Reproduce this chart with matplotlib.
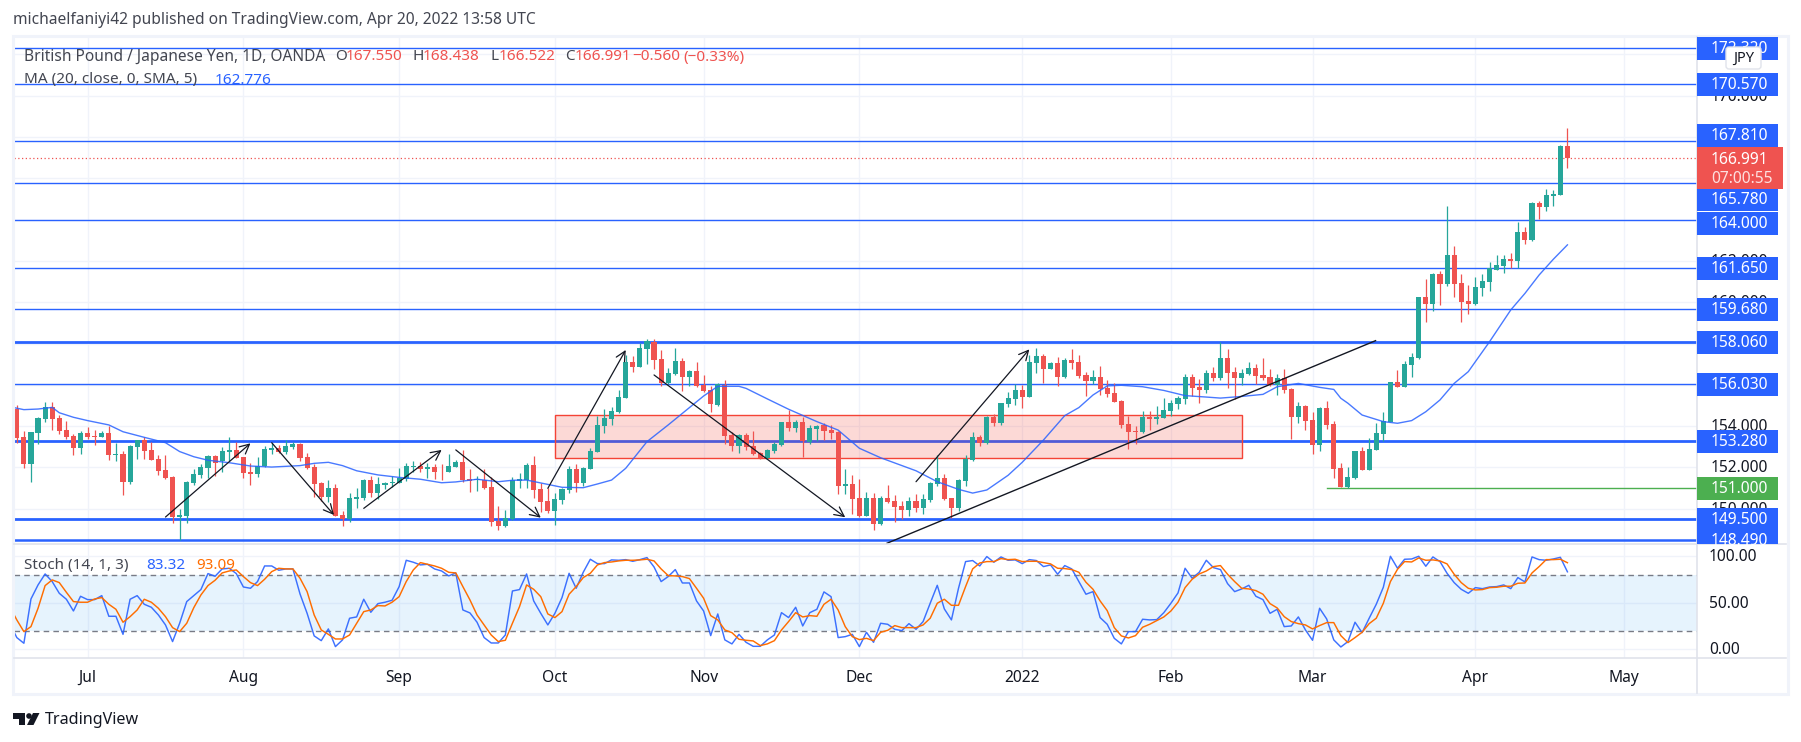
import numpy as np
import matplotlib
matplotlib.use('Agg')
import matplotlib.pyplot as plt
from matplotlib.patches import Rectangle, Polygon, Circle, FancyBboxPatch

plt.rcParams['font.family'] = ['Noto Sans', 'DejaVu Sans']

# Velas diarias GBP/JPY
opens = [154.85,153.47,152.18,153.69,154.36,154.93,154.41,153.81,153.52,152.96,
 153.67,153.51,153.49,153.67,152.62,152.65,151.31,152.99,153.33,152.85,
 152.41,151.88,151.54,149.60,149.65,151.25,151.65,151.97,152.55,152.30,
 152.75,152.85,152.51,151.78,151.68,152.06,152.86,152.94,152.75,152.99,
 153.14,152.51,152.02,151.25,150.57,151.01,149.70,149.50,150.49,150.52,
 151.39,150.76,151.17,151.25,151.25,151.44,152.04,152.07,151.94,152.02,
 151.84,151.78,152.04,152.26,151.43,151.39,151.39,151.05,149.41,149.16,
 149.50,151.33,151.38,152.12,150.96,150.38,149.89,150.43,150.91,151.93,
 151.25,151.93,152.75,154.01,154.36,154.69,155.36,157.11,156.87,157.74,
 158.08,157.25,156.07,156.53,157.16,156.38,156.67,155.99,155.75,155.03,
 155.99,153.57,153.04,153.57,153.04,152.70,152.46,152.80,153.09,154.20,
 153.91,154.20,153.23,153.86,154.06,153.81,153.72,151.12,151.20,150.52,
 149.65,150.52,149.26,150.52,150.38,150.13,149.94,150.38,150.04,150.43,
 151.20,151.49,150.52,150.04,151.34,152.36,153.47,153.19,154.44,154.15,
 155.07,155.32,155.75,155.41,157.06,157.40,156.77,157.06,156.38,157.20,
 157.11,156.48,156.19,156.38,155.85,155.61,155.22,154.11,153.77,153.72,
 154.44,154.35,154.40,154.73,155.07,155.32,156.38,155.90,155.75,156.57,
 156.33,157.30,156.62,156.33,156.53,156.82,156.48,156.38,155.99,156.33,
 155.80,154.44,154.98,154.30,153.09,154.88,154.11,151.97,151.07,151.49,
 152.79,151.89,152.85,153.64,154.19,156.14,155.91,156.96,157.30,160.26,
 159.92,161.39,160.89,162.29,160.93,160.06,159.92,160.69,160.98,161.56,
 161.76,162.10,162.00,163.40,163.02,164.81,164.61,165.16,165.20,167.55]
closes = [153.44,152.18,153.72,154.40,154.93,154.36,153.78,153.47,152.96,153.67,
 153.46,153.49,153.67,152.62,152.65,151.31,153.04,153.31,152.81,152.36,
 151.83,151.49,149.59,149.68,151.30,151.68,152.02,152.55,152.20,152.78,
 152.85,152.47,151.75,151.70,152.07,152.89,152.94,152.75,153.04,153.14,
 152.47,151.99,151.20,150.57,151.01,149.65,149.50,150.52,150.57,151.39,
 150.76,151.20,151.26,151.30,151.51,152.07,152.07,151.94,152.01,151.78,
 151.81,152.07,152.26,151.38,151.36,151.44,151.01,149.37,149.18,149.54,
 151.38,151.44,152.12,150.91,150.33,149.89,150.47,150.96,151.93,151.25,
 151.97,152.80,154.04,154.41,154.73,155.41,157.11,156.87,157.79,158.11,
 157.20,156.09,156.57,157.16,156.38,156.67,155.95,155.70,155.07,156.04,
 153.52,153.04,153.57,152.99,152.65,152.46,152.85,153.14,154.20,153.91,
 154.22,153.28,153.91,154.01,153.77,153.67,151.10,151.20,150.47,149.65,
 150.52,149.26,150.52,150.33,150.09,149.94,150.38,150.04,150.47,151.25,
 151.49,150.47,150.04,151.39,152.41,153.47,153.19,154.44,154.15,155.12,
 155.36,155.75,155.41,157.11,157.40,156.77,157.06,156.38,157.20,157.06,
 156.43,156.19,156.38,155.80,155.56,155.17,154.06,153.72,153.73,154.44,
 154.35,154.44,154.78,155.12,155.36,156.38,155.85,155.75,156.57,156.33,
 157.30,156.57,156.33,156.57,156.82,156.43,156.33,155.99,156.33,155.75,
 154.44,154.98,154.25,153.09,154.88,154.06,151.93,151.05,151.52,152.79,
 151.89,152.89,153.69,154.23,156.14,155.91,157.01,157.35,160.26,159.92,
 161.39,160.89,162.29,160.89,160.01,159.92,160.74,161.03,161.64,161.80,
 162.10,162.00,163.40,163.02,164.81,164.61,165.20,165.24,167.57,166.99]
highs = [155.01,153.77,153.72,154.46,155.15,155.17,154.53,154.25,153.60,153.75,
 153.96,153.80,153.75,154.01,153.19,152.80,153.10,153.33,153.46,153.25,
 152.60,152.60,151.59,149.99,151.33,151.94,152.18,152.60,152.60,152.99,
 153.47,153.22,152.51,152.20,152.52,153.04,153.19,153.09,153.31,153.25,
 153.20,152.69,152.18,151.31,151.38,151.18,149.89,150.75,151.01,151.44,
 151.59,151.55,151.31,151.57,151.97,152.20,152.31,152.25,152.23,152.17,
 152.17,152.65,152.36,152.85,151.91,151.59,151.93,151.55,150.13,149.94,
 151.52,151.73,152.20,152.55,151.23,150.99,150.75,151.02,152.07,152.17,
 152.04,152.94,154.51,154.82,154.94,155.75,157.45,157.40,158.01,158.22,
 158.22,157.69,156.80,157.79,157.30,156.72,157.11,156.48,155.95,156.09,
 156.24,153.73,153.62,153.69,153.77,152.75,152.91,153.23,154.20,154.78,
 154.30,154.44,154.06,154.06,154.15,154.04,153.77,151.93,151.64,151.44,
 150.81,150.75,150.63,151.15,150.67,150.38,150.57,150.72,150.72,151.30,
 152.60,151.68,150.52,151.44,152.60,153.72,153.57,154.49,154.59,155.12,
 155.65,156.04,155.99,157.45,157.79,157.49,157.11,157.37,157.30,157.74,
 157.45,156.62,156.72,156.91,156.24,156.07,155.27,154.49,154.01,154.73,
 154.73,154.98,155.35,155.27,155.46,156.53,156.53,156.28,156.72,156.87,
 158.07,157.74,156.87,156.77,157.11,157.01,157.30,156.77,156.53,156.77,
 155.85,155.17,155.03,154.69,154.93,155.22,154.25,152.20,152.04,152.81,
 152.98,153.43,154.14,154.70,156.14,156.72,157.17,157.53,160.27,161.13,
 161.43,161.51,164.66,162.72,161.37,160.84,161.24,161.37,161.93,162.29,
 162.29,162.37,163.89,163.65,164.86,164.91,165.49,165.44,167.62,168.44]
lows = [153.17,151.99,151.31,153.12,154.22,153.81,153.62,153.39,152.60,152.65,
 153.39,153.09,153.47,152.36,152.33,150.67,151.22,152.41,152.41,152.36,
 151.65,151.44,149.33,148.49,149.33,151.15,151.47,151.47,151.60,151.80,
 152.31,152.46,151.51,151.15,151.55,152.02,152.65,152.69,152.65,152.89,
 152.33,151.93,150.59,150.38,150.34,149.65,149.16,149.37,150.02,150.43,
 150.59,150.47,150.97,151.04,151.25,151.36,151.76,151.80,151.47,151.44,
 151.38,151.78,152.01,151.31,150.83,150.88,150.96,149.16,148.97,149.10,
 149.46,151.01,150.99,150.51,149.86,149.79,149.23,150.23,150.78,150.81,
 151.10,151.93,152.75,153.69,154.06,154.62,155.36,156.64,156.87,157.01,
 156.75,155.95,156.04,156.49,155.70,155.95,155.88,155.67,154.69,154.98,
 153.14,152.80,152.70,152.85,152.60,152.41,152.41,152.70,153.04,153.77,
 153.72,152.51,153.14,153.28,153.33,153.38,150.70,150.72,149.75,149.62,
 149.65,148.97,149.21,150.28,149.36,149.50,149.65,149.84,149.75,150.31,
 151.10,150.43,149.55,149.89,151.10,152.31,153.04,153.14,154.01,154.06,
 154.93,155.03,154.88,155.41,156.57,156.09,156.77,155.95,156.33,156.77,
 156.33,155.46,156.04,155.51,155.41,155.17,153.91,152.89,153.14,153.67,
 153.81,154.10,154.40,154.49,154.83,155.07,155.46,155.12,155.61,156.19,
 156.24,155.85,155.32,155.99,156.48,156.04,156.24,155.95,155.51,155.61,
 153.38,154.15,153.81,152.65,152.80,153.86,151.49,151.05,150.99,151.44,
 151.88,151.88,152.85,153.27,154.19,155.88,155.88,156.40,157.25,159.06,
 159.59,159.87,160.80,160.24,159.06,159.43,159.87,160.30,160.55,161.56,
 161.43,161.64,161.64,162.82,162.97,164.03,164.42,164.66,165.20,166.52]

# Media movil 20
ma_days = [-1,1,3,5,6,8,10,13,15,18,21,23,25,27,30,33,36,40,42,44,46,48,51,54,57,60,62,65,68,70,72,75,77,80,82,
 84,86,89,92,94,97,99,102,103,106,109,113,116,119,122,127,130,133,135,137,140,142,145,148,150,152,154,156,159,
 162,165,168,170,173,176,178,181,184,186,187,188,190,193,195,197,199,201,203,205,208,211,213,215,217,219]
ma_values = [154.94,154.80,154.83,154.91,154.65,154.43,154.27,154.06,153.73,153.46,153.20,152.77,152.52,152.35,152.23,
 152.07,152.02,152.09,152.20,152.25,152.09,151.84,151.64,151.52,151.43,151.26,151.30,151.43,151.31,151.38,151.39,
 151.18,151.04,151.02,151.20,151.39,151.96,153.25,154.06,154.62,155.46,155.93,155.93,155.83,155.32,154.82,154.22,
 153.81,152.93,152.47,151.84,151.31,150.94,150.76,150.91,151.62,152.25,153.33,154.51,154.90,155.51,155.95,155.98,
 155.91,155.73,155.48,155.41,155.36,155.44,155.54,155.91,156.07,155.88,155.78,155.35,155.11,154.54,154.22,154.14,
 154.27,154.70,155.27,156.07,156.64,158.09,159.63,160.43,161.32,162.08,162.78]

# Estocastico (dia -1 queda justo fuera del borde)
stoch_k = [28.0,12.6,6.5,54.1,69.2,81.0,72.8,60.2,53.8,41.2,57.0,
 53.4,53.4,57.7,35.5,35.5,16.1,53.8,57.7,48.4,45.2,
 36.9,26.2,8.3,28.0,51.3,57.7,64.2,81.4,78.5,86.4,
 87.1,81.4,67.0,65.6,72.8,89.6,89.6,85.0,86.4,86.4,
 59.5,38.7,14.4,9.3,21.9,2.9,10.1,33.4,34.8,53.8,
 39.8,49.1,50.6,52.7,67.4,95.7,93.6,90.7,91.4,86.4,
 84.2,78.9,82.1,42.3,39.1,29.1,12.6,6.8,6.8,15.4,
 62.7,64.2,81.0,52.0,38.7,26.2,38.7,55.6,81.7,65.6,
 82.8,96.8,92.1,92.1,96.1,95.7,96.4,94.6,96.4,98.6,
 88.5,72.8,78.2,85.7,71.3,71.3,52.0,41.2,14.7,38.0,
 10.1,5.8,16.1,7.5,3.2,3.2,10.1,15.4,39.4,34.1,
 45.2,25.1,39.4,43.0,61.7,56.6,12.6,13.6,16.1,2.9,
 18.3,7.5,28.0,26.9,21.5,20.1,27.6,21.5,29.8,49.5,
 68.8,43.4,31.6,65.6,94.3,95.4,89.6,99.7,93.6,99.3,
 95.7,96.1,92.1,96.4,95.4,88.9,90.7,80.7,90.0,86.4,
 72.8,59.2,62.0,34.1,26.9,11.8,5.8,19.0,19.0,32.3,
 31.6,31.9,39.4,49.5,60.6,87.1,76.4,82.8,95.7,87.8,
 85.7,70.6,62.0,64.9,68.8,57.0,53.4,38.7,43.0,24.4,
 25.1,34.8,20.8,9.7,44.1,32.6,10.1,2.5,8.3,29.1,
 17.9,33.4,48.4,66.7,100.0,87.1,96.8,97.1,100.0,89.3,
 99.3,94.3,81.7,71.7,64.5,60.2,66.3,65.2,67.0,67.4,
 69.2,65.2,77.1,72.4,99.3,96.4,95.7,97.1,98.9,83.32]
stoch_d = [45.9,31.6,19.0,24.4,44.1,68.5,74.6,71.7,61.3,51.3,50.6,
 50.6,54.1,55.6,48.4,43.0,29.1,35.1,42.3,53.8,50.6,
 44.1,35.1,23.3,19.0,28.0,44.8,58.4,68.5,74.2,82.1,
 84.2,85.3,78.2,71.7,68.5,75.3,83.5,87.1,86.4,86.4,
 76.4,62.0,36.9,20.8,16.1,11.1,11.1,15.4,28.0,40.5,
 42.3,47.0,46.6,50.6,56.6,72.8,85.3,93.2,91.4,89.6,
 87.1,82.8,82.1,67.4,53.1,36.9,26.2,15.4,8.3,9.7,
 28.0,45.9,69.2,64.5,56.6,38.0,34.1,40.5,59.2,67.4,
 77.1,81.7,90.7,93.2,93.9,95.0,95.7,95.7,96.1,96.8,
 95.0,86.4,79.2,78.9,78.2,76.0,65.6,54.9,36.2,31.6,
 20.8,17.9,10.8,9.7,9.0,4.0,5.8,9.3,20.8,29.8,
 39.4,34.8,36.2,35.5,48.4,53.8,42.3,24.4,13.6,10.4,
 11.8,9.3,18.3,20.4,25.5,23.3,23.3,23.3,26.2,33.4,
 49.5,53.8,47.3,47.3,67.4,86.4,92.8,94.3,94.3,97.5,
 96.4,96.8,94.3,94.6,94.6,93.2,91.8,87.1,86.8,85.7,
 82.8,72.1,64.5,52.0,41.6,23.3,14.4,12.2,14.7,23.7,
 26.9,30.8,34.8,41.2,50.6,66.3,75.3,81.0,84.2,88.9,
 90.0,80.7,72.8,65.6,64.9,63.1,59.2,49.1,44.5,35.1,
 29.8,27.6,26.2,21.9,25.5,28.7,28.7,14.7,7.2,12.6,
 18.3,27.6,33.4,49.5,72.8,86.0,94.3,93.9,98.2,95.7,
 96.1,95.0,91.8,80.7,71.7,65.6,63.8,64.2,66.3,66.7,
 67.8,67.8,71.0,71.3,82.1,88.9,96.4,96.4,96.8,93.09]

# Niveles horizontales
thin_levels = [172.32, 170.57, 167.81, 165.78, 164.00, 161.65, 159.68, 156.03]
thick_levels = [158.06, 153.28, 149.50, 148.49]
level_labels = [172.32, 170.57, 167.81, 165.78, 164.00, 161.65, 159.68, 158.06, 156.03, 153.28, 149.50, 148.49]
last_close = 166.991
support = 151.00
support_start = 185

# Flechas y tendencia: dia inicial, precio inicial, dia final, precio final
arrows = [(21,149.60,33,153.17),(36,153.20,44.8,149.70),(49,150.02,60,152.85),(62,152.85,74,149.57),
          (75,150.99,86,157.69),(90,156.48,117,149.59),(127,151.31,143,157.72)]
trend = (122.9,148.33,191.9,158.14)
zone = (76,173,152.44,154.53)

month_days = [10,32,54,76,97,119,142,163,183,206,227]
month_names = ['Jul','Aug','Sep','Oct','Nov','Dec','2022','Feb','Mar','Apr','May']
price_grid = [172,170,168,166,164,162,160,158,156,154,152,150,148]
# las demas etiquetas quedan del todo tapadas por las cajas azules
price_ticks = [172,170,162,160,154,152,150]
stoch_ticks = [100,50,0]

BLUE = '#2962ff'
RED = '#ef5350'
GREEN = '#26a69a'
ORANGE = '#ff6d00'
GRID = '#f0f3fa'
LINE = '#e0e3eb'
TXT = '#434651'
FS = 11.0
W, H = 1801, 742

fig = plt.figure(figsize=(W/100, H/100), dpi=100, facecolor='white')
left, right, top, sep, bottom = 13.5, 1697, 37, 544, 658
ax = fig.add_axes([left/W, 1-sep/H, (right-left)/W, (sep-top)/H])
ax2 = fig.add_axes([left/W, 1-bottom/H, (right-left)/W, (bottom-sep)/H])
xlim = (-0.466, 237.3)
ax.set_xlim(xlim); ax.set_ylim(148.294, 172.846)
ax2.set_xlim(xlim); ax2.set_ylim(-9.35, 113.2)
for a in (ax, ax2):
    a.set_xticks([]); a.set_yticks([])
    for s in a.spines.values():
        s.set_visible(False)
    for d in month_days:
        a.axvline(d, color=GRID, lw=1, zorder=0)
for p in price_grid:
    ax.axhline(p, color=GRID, lw=1, zorder=0)
for v in stoch_ticks:
    ax2.axhline(v, color=GRID, lw=1, zorder=0)

# Panel de precios
for p in thin_levels:
    ax.axhline(p, color=BLUE, lw=1.0, zorder=2)
for p in thick_levels:
    ax.axhline(p, color=BLUE, lw=2.0 if p != 148.49 else 1.8, zorder=2)
ax.axhline(last_close, color=RED, lw=0.9, ls=(0, (1, 2)), zorder=2)
ax.plot([support_start, xlim[1]], [support, support], color='#4caf50', lw=1.0, zorder=2)
ax.add_patch(Rectangle((zone[0], zone[2]), zone[1]-zone[0], zone[3]-zone[2], fc='#f44336', alpha=0.2, zorder=2.5))
ax.add_patch(Rectangle((zone[0], zone[2]), zone[1]-zone[0], zone[3]-zone[2], fc='none', ec='#f44336', lw=1.0, zorder=2.6))

days = np.arange(len(opens))
o = np.array(opens); c = np.array(closes)
colors = [GREEN if cl >= op else RED for op, cl in zip(opens, closes)]
ax.vlines(days, lows, highs, colors=colors, lw=0.9, zorder=3)
ax.bar(days, np.maximum(np.abs(c-o), 0.02), bottom=np.minimum(o, c), width=0.72, color=colors, lw=0, zorder=3.1)
ax.plot(ma_days, ma_values, color=BLUE, lw=1.0, alpha=0.85, zorder=4)

for x0, y0, x1, y1 in arrows:
    ax.annotate('', xy=(x1, y1), xytext=(x0, y0), zorder=5,
                arrowprops=dict(arrowstyle='->', color='#131722', lw=0.9, mutation_scale=17, shrinkA=0, shrinkB=0))
ax.plot(trend[0::2], trend[1::2], color='#131722', lw=1.0, zorder=5)

# Panel estocastico
ax2.axhspan(20, 80, color='#2196f3', alpha=0.11, lw=0, zorder=1)
for v in (20, 80):
    ax2.axhline(v, color='#787b86', lw=1.0, ls=(0, (4, 3)), zorder=2)
stoch_days = np.arange(-1, len(stoch_k)-1)
ax2.plot(stoch_days, stoch_k, color=BLUE, lw=1.05, alpha=0.9, zorder=3)
ax2.plot(stoch_days, stoch_d, color=ORANGE, lw=1.05, zorder=4)

# Capa en pixeles para marco, escala y textos
ov = fig.add_axes([0, 0, 1, 1], zorder=10)
ov.set_xlim(0, W); ov.set_ylim(H, 0); ov.axis('off'); ov.patch.set_alpha(0)
fig.canvas.draw()
px = lambda a, v: H - a.transData.transform((0, v))[1]
dx = lambda d: ax.transData.transform((d, 0))[0]

ov.add_patch(Rectangle((12.5, 35.5), 1775, 658.5, fc='none', ec=GRID, lw=2.2, zorder=1))
ov.plot([right, right], [37, 693], color=LINE, lw=1.2, zorder=1)
ov.plot([13.5, 1786], [bottom, bottom], color=LINE, lw=1.2, zorder=1)
ov.plot([13.5, 1786], [sep, sep], color=LINE, lw=1.2, zorder=1)

clip = Rectangle((right, 35), 100, sep-35, transform=ov.transData)
for p in price_ticks:
    t = ov.text(1711, px(ax, p)+1, f'{p:.3f}', color='#131722', fontsize=FS+0.2, va='center', ha='left', zorder=2)
    t.set_clip_path(clip)
for v in stoch_ticks:
    ov.text(1709, px(ax2, v)+1, f'{v:.2f}', color='#131722', fontsize=FS+0.2, va='center', ha='left', zorder=2)
for d, name in zip(month_days, month_names):
    ov.text(dx(d), 677.5, name, color='#131722', fontsize=FS+0.2, ha='center', va='center', zorder=2,
            fontweight='bold' if name == '2022' else 'normal')

# Cajas de la escala: TradingView separa las que chocan
label_shift = {167.81: -5, 165.78: 17, 164.00: 3.5}
for n, p in enumerate(level_labels):
    y = px(ax, p) + label_shift.get(p, 0.5)
    box = Rectangle((right, y-11.5), 81, 23, fc=BLUE, ec='none', zorder=3+n*0.01)
    ov.add_patch(box); box.set_clip_path(clip)
    t = ov.text(1711, y+0.5, f'{p:.3f}', color='white', fontsize=FS+0.2, va='center', ha='left', zorder=3.005+n*0.01)
    t.set_clip_path(clip)
y = px(ax, support)
ov.add_patch(Rectangle((right, y-11.5), 81, 23, fc='#4caf50', ec='none', zorder=4))
ov.text(1711, y+0.5, f'{support:.3f}', color='white', fontsize=FS+0.2, va='center', ha='left', zorder=4.1)
ov.add_patch(Rectangle((right, 147), 86, 42, fc=RED, ec='none', zorder=5))
ov.text(1711, 159.5, f'{last_close:.3f}', color='white', fontsize=FS+0.2, va='center', ha='left', zorder=5.1)
ov.text(1711, 179, '07:00:55', color='#fde0df', fontsize=FS+0.2, va='center', ha='left', zorder=5.1)

ov.add_patch(FancyBboxPatch((1728, 49), 31, 18, boxstyle='round,pad=2,rounding_size=3', fc='white', ec=LINE, lw=1, zorder=6))
ov.text(1743.5, 58, 'JPY', color='#131722', fontsize=10.5, ha='center', va='center', zorder=6.1)

# Textos
ov.text(13, 20.5, 'michaelfaniyi42 published on TradingView.com, Apr 20, 2022 13:58 UTC', color=TXT, fontsize=11.2, va='center', zorder=2)
ov.text(24, 57, 'British Pound / Japanese Yen, 1D, OANDA', color=TXT, fontsize=FS+0.15, va='center', zorder=7)
for x, s, col in [(335, 'O', TXT), (346, '167.550', RED), (412, 'H', TXT), (423, '168.438', RED),
                  (490, 'L', TXT), (498.5, '166.522', RED), (565, 'C', TXT), (575, '166.991', RED),
                  (632, '−0.560', RED), (683, '(−0.33%)', RED)]:
    ov.text(x, 57, s, color=col, fontsize=FS, va='center', zorder=7)
ov.text(24, 80, 'MA (20, close, 0, SMA, 5)', color=TXT, fontsize=FS, va='center', zorder=7)
ov.text(215, 80, '162.776', color=BLUE, fontsize=FS, va='center', zorder=7)
ov.text(24, 565.5, 'Stoch (14, 1, 3)', color=TXT, fontsize=FS, va='center', zorder=7)
ov.text(146, 565.5, '83.32', color=BLUE, fontsize=FS, va='center', zorder=7)
ov.text(196, 565.5, '93.09', color=ORANGE, fontsize=FS, va='center', zorder=7)

# Logo
ov.add_patch(Polygon([(13, 713), (25, 713), (25, 725), (19, 725), (19, 718.5), (13, 718.5)], fc='#131722', ec='none'))
ov.add_patch(Circle((29, 716), 2.8, fc='#131722', ec='none'))
ov.add_patch(Polygon([(33, 713), (39.5, 713), (33.5, 725), (27, 725)], fc='#131722', ec='none'))
ov.text(44.5, 719.5, 'TradingView', color='#131722', fontsize=11.6, va='center', zorder=2)

fig.savefig('out.png', dpi=100)
